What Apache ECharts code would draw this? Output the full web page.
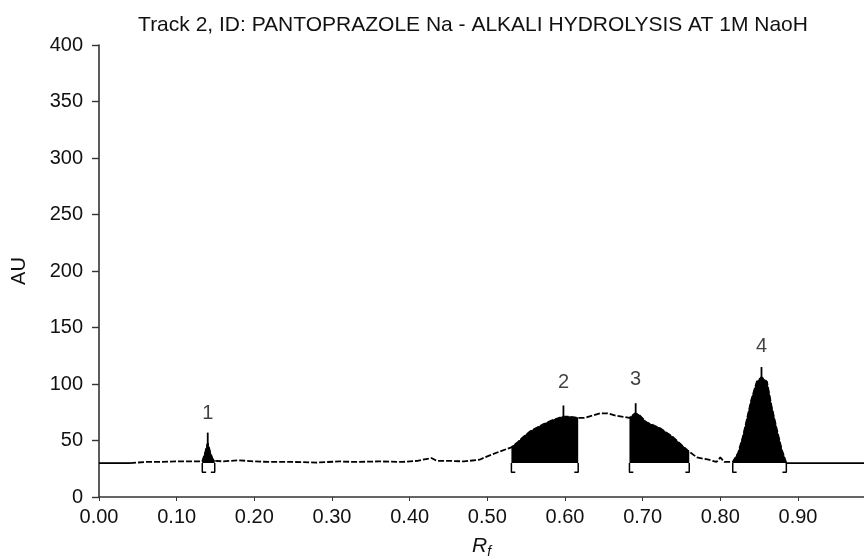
<!DOCTYPE html>
<html>
<head>
<meta charset="utf-8">
<script src="https://cdn.jsdelivr.net/npm/echarts@6/dist/echarts.min.js"></script>
<style>
  html, body { margin: 0; padding: 0; background: #fff; }
  #chart { width: 864px; height: 558px; }
</style>
</head>
<body>
<div id="chart"></div>
<script>
// densitometric trace (Rf, AU)
const rfTrace = [0, 0.04, 0.06, 0.08, 0.10, 0.12, 0.133,
  0.134, 0.137, 0.140, 0.143, 0.146, 0.149,
  0.16, 0.18, 0.20, 0.22, 0.25, 0.28, 0.31, 0.33, 0.36, 0.39, 0.41, 0.428, 0.435, 0.45, 0.47, 0.49, 0.50, 0.515,
  0.531, 0.540, 0.546, 0.555, 0.563, 0.571, 0.584, 0.597, 0.605, 0.617,
  0.625, 0.635, 0.645, 0.655, 0.665, 0.675,
  0.683, 0.690, 0.695, 0.705, 0.722, 0.739, 0.750, 0.760,
  0.770, 0.785, 0.795, 0.800, 0.805,
  0.816, 0.823, 0.829, 0.834, 0.840, 0.847, 0.853, 0.860, 0.866, 0.873, 0.879, 0.885,
  0.985];
const auTrace = [30, 30, 31, 31, 31.5, 31.5, 31.5,
  32, 40, 48, 40, 34, 32,
  31.5, 32.5, 31.5, 31, 31, 30.5, 31.5, 31, 31.5, 31, 32, 34.5, 32, 32, 31.5, 33, 36, 40,
  44, 49, 53, 58, 61, 64, 68, 71, 71, 70,
  70, 72, 74, 74, 72, 71,
  70, 74, 73, 66, 61, 53, 46, 40,
  35, 33, 31, 35, 31,
  31, 39, 53, 68, 86, 102, 106, 102, 80, 59, 42, 30,
  30];

// integrated peaks
const peakNames = ['1', '2', '3', '4'];
const peakStart = [0.133, 0.531, 0.683, 0.816];
const peakEnd = [0.149, 0.617, 0.760, 0.885];
const peakRf = [0.140, 0.598, 0.691, 0.853];
const peakTop = [48, 71, 74, 106];
const spikeTop = [57, 81, 83, 115];
const labelAU = [74, 101, 104, 133];

const baseAU = 30;
const bracketAU = 22;
const noisyFrom = 0.04, noisyTo = 0.885;

const pts = rfTrace.map((x, i) => [x, auTrace[i]]);
const font = 'Liberation Sans, Arial, sans-serif';

const series = [];

// filled peaks
peakStart.forEach((s, i) => {
  series.push({
    type: 'line',
    data: pts.filter(p => p[0] >= s && p[0] <= peakEnd[i]),
    symbol: 'none',
    lineStyle: { color: '#000', width: 1 },
    areaStyle: { color: '#000', opacity: 1, origin: baseAU },
    z: 2
  });
});

// trace: solid ends, broken middle
series.push({
  type: 'line',
  data: pts.filter(p => p[0] <= noisyFrom),
  symbol: 'none',
  lineStyle: { color: '#000', width: 1.8 },
  z: 3
});
series.push({
  type: 'line',
  data: pts.filter(p => p[0] >= noisyFrom && p[0] <= noisyTo),
  symbol: 'none',
  lineStyle: { color: '#000', width: 1.8, type: [6, 2] },
  z: 3
});
series.push({
  type: 'line',
  data: pts.filter(p => p[0] >= noisyTo),
  symbol: 'none',
  lineStyle: { color: '#000', width: 1.8 },
  z: 3
});

// peak max markers
peakRf.forEach((x, i) => {
  series.push({
    type: 'line',
    data: [[x, peakTop[i]], [x, spikeTop[i]]],
    symbol: 'none',
    lineStyle: { color: '#000', width: 1.8 },
    z: 4
  });
});

// integration brackets
peakStart.forEach((s, i) => {
  const e = peakEnd[i];
  series.push({
    type: 'line',
    data: [[s + 0.005, bracketAU], [s, bracketAU], [s, baseAU]],
    symbol: 'none',
    lineStyle: { color: '#000', width: 1.5 },
    z: 4
  });
  series.push({
    type: 'line',
    data: [[e - 0.005, bracketAU], [e, bracketAU], [e, baseAU]],
    symbol: 'none',
    lineStyle: { color: '#000', width: 1.5 },
    z: 4
  });
});

// peak numbers
series.push({
  type: 'scatter',
  data: peakRf.map((x, i) => ({ value: [x, labelAU[i]], name: peakNames[i] })),
  symbolSize: 0,
  label: {
    show: true,
    position: 'inside',
    formatter: p => p.name,
    color: '#111',
    fontSize: 20,
    fontFamily: font
  },
  z: 5
});

const chart = echarts.init(document.getElementById('chart'));
chart.setOption({
  animation: false,
  title: {
    text: 'Track 2, ID: PANTOPRAZOLE Na - ALKALI HYDROLYSIS AT 1M NaoH',
    left: 468,
    textAlign: 'center',
    top: 10,
    textStyle: { fontSize: 21, fontWeight: 'normal', color: '#111', fontFamily: font }
  },
  grid: { left: 99, right: 0, top: 45, bottom: 61, containLabel: false, outerBoundsMode: 'none' },
  xAxis: {
    type: 'value',
    min: 0,
    max: 0.985,
    interval: 0.1,
    name: '{r|R}{s|f}',
    nameLocation: 'middle',
    nameGap: 36,
    nameTextStyle: {
      rich: {
        r: { fontSize: 21, fontStyle: 'italic', fontFamily: font, color: '#111' },
        s: { fontSize: 14, fontStyle: 'italic', fontFamily: font, color: '#111', padding: [12, 0, 0, 0] }
      }
    },
    axisLine: { lineStyle: { color: '#333', width: 1.6 } },
    axisTick: { length: 4, lineStyle: { color: '#333' } },
    axisLabel: {
      showMaxLabel: false,
      margin: 10,
      fontSize: 20,
      color: '#111',
      fontFamily: font,
      formatter: v => Math.abs(v * 10 - Math.round(v * 10)) < 1e-6 ? v.toFixed(2) : ''
    },
    splitLine: { show: false }
  },
  yAxis: {
    type: 'value',
    min: 0,
    max: 400,
    interval: 50,
    name: 'AU',
    nameLocation: 'middle',
    nameGap: 70,
    nameTextStyle: { fontSize: 20, color: '#111', fontFamily: font },
    axisLine: { show: true, lineStyle: { color: '#333', width: 1.6 } },
    axisTick: { show: true, length: 7, lineStyle: { color: '#333', width: 1.4 } },
    axisLabel: { margin: 16, fontSize: 20, color: '#111', fontFamily: font },
    splitLine: { show: false }
  },
  series: series
});
</script>
</body>
</html>
